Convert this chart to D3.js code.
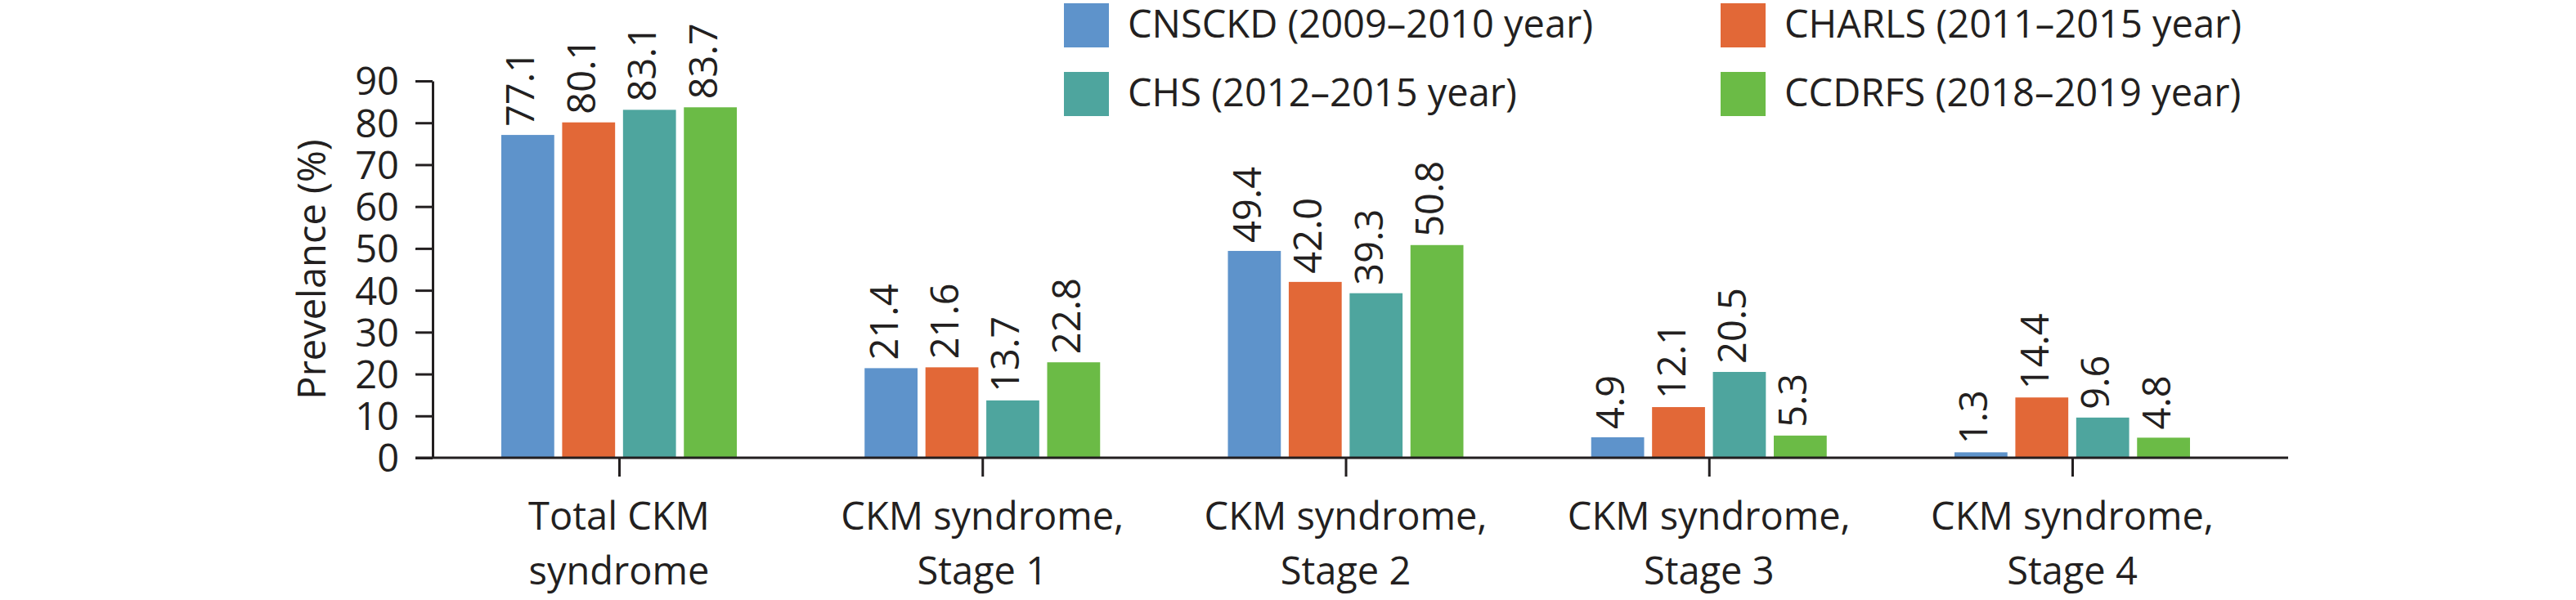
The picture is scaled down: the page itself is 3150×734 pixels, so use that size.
<!DOCTYPE html>
<html>
<head>
<meta charset="utf-8">
<script src="https://cdn.jsdelivr.net/npm/d3@7"></script>
<style>
  body { margin: 0; background: #fff; }
  text { font-family: "Open Sans", sans-serif; fill: #231f20; }
</style>
</head>
<body>
<div id="chart"></div>
<script>
var categories = ["Total CKM\nsyndrome", "CKM syndrome,\nStage 1", "CKM syndrome,\nStage 2",
                  "CKM syndrome,\nStage 3", "CKM syndrome,\nStage 4"];
var seriesNames = ["CNSCKD (2009\u20132010 year)", "CHARLS (2011\u20132015 year)",
                   "CHS (2012\u20132015 year)", "CCDRFS (2018\u20132019 year)"];
var cnsckd = [77.1, 21.4, 49.4, 4.9, 1.3];
var charls = [80.1, 21.6, 42.0, 12.1, 14.4];
var chs = [83.1, 13.7, 39.3, 20.5, 9.6];
var ccdrfs = [83.7, 22.8, 50.8, 5.3, 4.8];
var yTicks = [0, 10, 20, 30, 40, 50, 60, 70, 80, 90];
var colors = ["#5e93cb", "#e26837", "#4ea59e", "#6bbb46"];

(function() {
    var W = 3150, H = 734, fs = 47, ink = "#231f20";
    var series = [cnsckd, charls, chs, ccdrfs];

    var svg = d3.select("#chart").append("svg")
        .attr("width", W)
        .attr("height", H);

    var x = d3.scalePoint().domain(categories).range([757, 2534]);
    var xs = d3.scaleBand().domain(d3.range(4)).range([-144, 144]).paddingInner(0.13);
    var y = d3.scaleLinear().domain([0, 90]).range([560, 99]);

    // bars
    var groups = svg.selectAll(".grp")
        .data(categories)
        .enter().append("g")
        .attr("class", "grp")
        .attr("transform", d => "translate(" + x(d) + ",0)");

    groups.selectAll("rect")
        .data((d, ci) => series.map((s, si) => ({ si: si, v: s[ci] })))
        .enter().append("rect")
        .attr("x", d => xs(d.si))
        .attr("width", xs.bandwidth())
        .attr("y", d => y(d.v))
        .attr("height", d => y(0) - y(d.v))
        .attr("fill", d => colors[d.si]);

    groups.selectAll(".val")
        .data((d, ci) => series.map((s, si) => ({ si: si, v: s[ci] })))
        .enter().append("text")
        .attr("class", "val")
        .attr("transform", d => "translate(" + (xs(d.si) + xs.bandwidth() / 2 + 8) + "," + (y(d.v) - 10) + ") rotate(-90)")
        .style("font-size", fs + "px")
        .text(d => d.v.toFixed(1));

    // y axis
    var yAxis = svg.append("g")
        .attr("transform", "translate(529,0)")
        .call(d3.axisLeft(y).tickValues(yTicks).tickSize(21).tickSizeOuter(0).tickPadding(20));
    yAxis.selectAll("line, path").attr("stroke", ink).attr("stroke-width", 3);
    yAxis.selectAll("text").style("font-size", fs + "px").attr("dy", "0.36em");

    // x axis
    var xAxis = svg.append("g")
        .attr("transform", "translate(0," + y(0) + ")")
        .call(d3.axisBottom(x).tickSize(23).tickFormat(""));
    xAxis.select(".domain").remove();
    xAxis.selectAll("line").attr("stroke", ink).attr("stroke-width", 3);
    xAxis.append("line")
        .attr("x1", 508).attr("x2", 2798)
        .attr("stroke", ink).attr("stroke-width", 3);

    // category labels
    svg.selectAll(".cat")
        .data(categories)
        .enter().append("text")
        .attr("class", "cat")
        .attr("text-anchor", "middle")
        .style("font-size", fs + "px")
        .each(function(d) {
            d3.select(this).selectAll("tspan")
                .data(d.split("\n"))
                .enter().append("tspan")
                .attr("x", x(d))
                .attr("y", (t, i) => 648 + i * 67)
                .text(t => t);
        });

    // y title
    svg.append("text")
        .attr("transform", "translate(398," + ((y(0) + y(90)) / 2) + ") rotate(-90)")
        .attr("text-anchor", "middle")
        .style("font-size", fs + "px")
        .text("Prevelance (%)");

    // legend
    var legX = [1301, 2104], legY = [4, 88];
    var leg = svg.selectAll(".leg")
        .data(seriesNames)
        .enter().append("g")
        .attr("class", "leg")
        .attr("transform", (d, i) => "translate(" + legX[i % 2] + "," + legY[Math.floor(i / 2)] + ")");
    leg.append("rect")
        .attr("width", 55).attr("height", 54)
        .attr("fill", (d, i) => colors[i]);
    leg.append("text")
        .attr("x", 78).attr("y", 42)
        .style("font-size", fs + "px")
        .text(d => d);
})();
</script>
</body>
</html>
